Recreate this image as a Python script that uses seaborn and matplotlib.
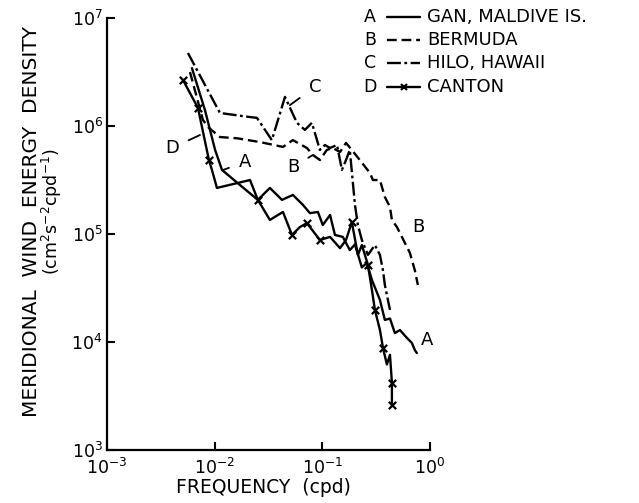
import matplotlib
matplotlib.use("Agg")
import matplotlib.pyplot as plt
import seaborn as sns
import pandas as pd
from matplotlib.lines import Line2D
from matplotlib.ticker import NullLocator

# ---- data ----
a_freq = [0.00615, 0.00812, 0.0101, 0.0117, 0.0172, 0.0252, 0.0326, 0.0422, 0.0533, 0.0661,
          0.0767, 0.091, 0.101, 0.118, 0.131, 0.155, 0.180, 0.201, 0.233, 0.259, 0.289,
          0.343, 0.381, 0.425, 0.472, 0.526, 0.611, 0.679, 0.724, 0.755]
a_energy = [3.44e6, 1.41e6, 6.0e5, 3.92e5, 2.84e5, 2.07e5, 2.67e5, 2.07e5, 2.30e5, 1.86e5,
            1.56e5, 1.60e5, 1.21e5, 1.50e5, 9.8e4, 9.4e4, 7.1e4, 8.0e4, 4.9e4, 5.4e4, 3.75e4,
            2.45e4, 1.60e4, 1.65e4, 1.21e4, 1.29e4, 1.09e4, 9.8e3, 8.4e3, 7.9e3]

b_freq = [0.0059, 0.00778, 0.00867, 0.0112, 0.0161, 0.0264, 0.0431, 0.0533, 0.0719, 0.0818,
          0.095, 0.110, 0.125, 0.146, 0.166, 0.188, 0.223, 0.277, 0.295, 0.343, 0.381,
          0.425, 0.443, 0.493, 0.548, 0.650, 0.724, 0.772]
b_energy = [3.16e6, 1.14e6, 9.8e5, 7.9e5, 7.7e5, 7.1e5, 6.4e5, 7.4e5, 6.26e5, 5.39e5,
            4.84e5, 6.0e5, 6.26e5, 5.74e5, 6.97e5, 6.0e5, 4.84e5, 3.67e5, 3.16e5, 3.16e5, 2.20e5,
            1.78e5, 1.35e5, 1.16e5, 9.4e4, 6.7e4, 4.6e4, 3.37e4]

c_freq = [0.00565, 0.0112, 0.0213, 0.0247, 0.0340, 0.0450, 0.0581, 0.0689, 0.080, 0.095,
          0.1057, 0.118, 0.137, 0.152, 0.166, 0.180, 0.201, 0.214, 0.233, 0.265, 0.308,
          0.343, 0.366, 0.381, 0.425]
c_energy = [4.74e6, 1.32e6, 1.21e6, 1.19e6, 7.4e5, 1.86e6, 1.07e6, 9.2e5, 1.07e6, 6.0e5,
            6.67e5, 6.26e5, 6.67e5, 3.92e5, 4.84e5, 6.0e5, 1.86e5, 1.21e5, 8.8e4, 6.4e4, 7.9e4,
            6.4e4, 4.6e4, 3.37e4, 1.98e4]

d_freq = [0.00508, 0.0070, 0.00885, 0.00944, 0.0105, 0.0213, 0.0252, 0.0326, 0.0431, 0.0523,
          0.0619, 0.0719, 0.095, 0.118, 0.146, 0.166, 0.188, 0.214, 0.233, 0.265, 0.289,
          0.308, 0.343, 0.366, 0.398, 0.425, 0.443, 0.443, 0.443]
d_energy = [2.67e6, 1.47e6, 4.84e5, 3.92e5, 2.67e5, 3.16e5, 2.07e5, 1.35e5, 1.60e5, 9.8e4,
            1.16e5, 1.26e5, 8.8e4, 9.4e4, 7.4e4, 8.8e4, 1.29e5, 6.4e4, 7.9e4, 5.2e4, 3.03e4,
            1.98e4, 1.29e4, 8.8e3, 6.2e3, 7.6e3, 4.2e3, 3.2e3, 2.6e3]
d_marked = [1, 1, 1, 0, 0, 0, 1, 0, 0, 1,
            0, 1, 1, 0, 0, 0, 1, 0, 0, 1, 0,
            1, 0, 1, 0, 0, 1, 0, 1]

series_letters = ["A", "B", "C", "D"]
series_names = ["GAN, MALDIVE IS.", "BERMUDA", "HILO, HAWAII", "CANTON"]
x_ticks = [1e-3, 1e-2, 1e-1, 1e0]
x_tick_labels = [r"$10^{-3}$", r"$10^{-2}$", r"$10^{-1}$", r"$10^{0}$"]
y_ticks = [1e3, 1e4, 1e5, 1e6, 1e7]
y_tick_labels = [r"$10^{3}$", r"$10^{4}$", r"$10^{5}$", r"$10^{6}$", r"$10^{7}$"]

# ---- style ----
sns.set_style("ticks")
plt.rcParams["font.family"] = ["DejaVu Sans"]
plt.rcParams["mathtext.fontset"] = "dejavusans"
plt.rcParams["lines.scale_dashes"] = False
for k in ["text.color", "axes.labelcolor", "xtick.color", "ytick.color", "axes.edgecolor"]:
    plt.rcParams[k] = "black"

LW = 1.7
styles = {
    "A": "-",
    "B": (0, (7, 3.5)),
    "C": (0, (10, 2.5, 2, 2.5)),
    "D": "-",
}

fig = plt.figure(figsize=(6.39, 5.03), dpi=100)
ax = fig.add_axes([0.1674, 0.1054, 0.5055, 0.8588])

for letter, fx, ey in [("A", a_freq, a_energy), ("B", b_freq, b_energy),
                       ("C", c_freq, c_energy), ("D", d_freq, d_energy)]:
    df = pd.DataFrame({"f": fx, "e": ey})
    sns.lineplot(data=df, x="f", y="e", ax=ax, estimator=None, sort=False,
                 color="black", linewidth=LW, linestyle=styles[letter])

dm = pd.DataFrame({"f": d_freq, "e": d_energy, "m": d_marked})
dm = dm[dm["m"] == 1]
sns.scatterplot(data=dm, x="f", y="e", ax=ax, marker="x", color="black",
                s=28, linewidth=1.6, zorder=5)

ax.set_xscale("log")
ax.set_yscale("log")
ax.set_xlim(1e-3, 1e0)
ax.set_ylim(1e3, 1e7)
ax.set_xticks(x_ticks)
ax.set_xticklabels(x_tick_labels)
ax.set_yticks(y_ticks)
ax.set_yticklabels(y_tick_labels)
ax.xaxis.set_minor_locator(NullLocator())
ax.yaxis.set_minor_locator(NullLocator())
ax.tick_params(axis="both", which="major", direction="in", length=6, width=1.5,
               labelsize=12.5, colors="black")
ax.tick_params(axis="x", pad=6)
ax.tick_params(axis="y", pad=3)
ax.set_xlabel("")
ax.set_ylabel("")
sns.despine(ax=ax)
for s in ["left", "bottom"]:
    ax.spines[s].set_linewidth(1.6)
    ax.spines[s].set_color("black")

# axis titles
fig.text(0.050, 0.5606, "MERIDIONAL  WIND  ENERGY  DENSITY", rotation=90,
         ha="center", va="center", fontsize=14.5)
fig.text(0.0814, 0.5785, r"(cm$^{2}$s$^{-2}$cpd$^{-1}$)", rotation=90,
         ha="center", va="center", fontsize=12.5)
fig.text(0.413, 0.0318, "FREQUENCY  (cpd)", ha="center", va="center", fontsize=13.5)

# curve labels
ann = dict(arrowstyle="-", lw=1.3, color="black", shrinkA=5, shrinkB=0)
ax.annotate("C", xy=(0.050, 1.56e6), xytext=(0.0853, 2.3e6), arrowprops=ann,
            ha="center", va="center", fontsize=13)
ax.annotate("B", xy=(0.0818, 5.39e5), xytext=(0.0533, 4.17e5), arrowprops=ann,
            ha="center", va="center", fontsize=13)
ax.annotate("A", xy=(0.0120, 3.92e5), xytext=(0.0191, 4.64e5), arrowprops=ann,
            ha="center", va="center", fontsize=13)
ax.annotate("D", xy=(0.00731, 8.26e5), xytext=(0.00402, 6.25e5), arrowprops=ann,
            ha="center", va="center", fontsize=13)
ax.text(0.772, 1.16e5, "B", ha="center", va="center", fontsize=13)
ax.text(0.935, 1.04e4, "A", ha="center", va="center", fontsize=13)

# legend (letter, line sample, name)
W, H = 639.0, 503.0
row_y = [17, 40, 63, 87]
for i, (letter, name) in enumerate(zip(series_letters, series_names)):
    yf = 1 - row_y[i] / H
    fig.text(370 / W, yf, letter, ha="center", va="center", fontsize=12.5)
    fig.add_artist(Line2D([387 / W, 420 / W], [yf, yf], color="black",
                          linewidth=LW, linestyle=styles[letter],
                          transform=fig.transFigure))
    if letter == "D":
        fig.add_artist(Line2D([403.5 / W], [yf], color="black", marker="x",
                              markersize=5, markeredgewidth=1.5, linestyle="none",
                              transform=fig.transFigure))
    fig.text(427 / W, yf, name, ha="left", va="center", fontsize=13)

fig.savefig("out.png", dpi=100, facecolor="white")
